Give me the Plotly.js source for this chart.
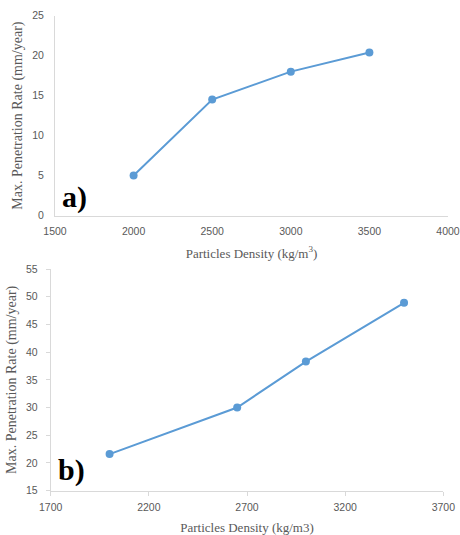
<!DOCTYPE html>
<html>
<head>
<meta charset="utf-8">
<script src="https://cdn.plot.ly/plotly-3.0.1.min.js"></script>
<style>html,body{margin:0;padding:0;background:#fff;}#chart{width:460px;height:535px;}</style>
</head>
<body>
<div id="chart"></div>
<script>
// Panel a)
const densityA = [2000, 2500, 3000, 3500];
const rateA = [5.0, 14.5, 18.0, 20.4];
// Panel b)
const densityB = [2000, 2650, 3000, 3500];
const rateB = [21.6, 30.0, 38.3, 48.9];

const xTitleA = 'Particles Density (kg/m<sup>3</sup>)';
const xTitleB = 'Particles Density (kg/m3)';
const yTitle = 'Max. Penetration Rate (mm/year)';
const panelLabels = ['a)', 'b)'];

const W = 460, H = 535;
const blue = '#5b9bd5';
const tickFont = {family: 'Liberation Sans, Arial, sans-serif', size: 10.5, color: '#595959'};
const xTitleFont = {family: 'Liberation Serif, Times New Roman, serif', size: 13, color: '#595959'};
const yTitleFont = {family: 'Liberation Serif, Times New Roman, serif', size: 14, color: '#595959'};

const traces = [
  {x: densityA, y: rateA, xaxis: 'x', yaxis: 'y', mode: 'lines+markers',
   line: {color: blue, width: 2}, marker: {color: blue, size: 8}, hoverinfo: 'x+y'},
  {x: densityB, y: rateB, xaxis: 'x2', yaxis: 'y2', mode: 'lines+markers',
   line: {color: blue, width: 2}, marker: {color: blue, size: 8}, hoverinfo: 'x+y'}
];

function px(x) { return x / W; }
function py(y) { return 1 - y / H; }

const axBase = {showgrid: false, zeroline: false, showline: true, linecolor: '#d9d9d9', linewidth: 1,
  tickfont: tickFont, fixedrange: true};

const layout = {
  width: W, height: H,
  margin: {l: 0, r: 0, t: 0, b: 0},
  paper_bgcolor: '#fff', plot_bgcolor: '#fff',
  showlegend: false,
  xaxis: Object.assign({}, axBase, {
    domain: [px(55), px(448)], anchor: 'y', range: [1500, 4000], dtick: 500, tick0: 1500,
    ticks: '', ticklabelstandoff: 6,
    title: {text: xTitleA, font: xTitleFont, standoff: 12}
  }),
  yaxis: Object.assign({}, axBase, {
    domain: [py(215.5), py(15.7)], anchor: 'x', range: [0, 25], dtick: 5,
    ticks: '', ticklabelstandoff: 8,
    title: {text: yTitle, font: yTitleFont, standoff: 6}
  }),
  xaxis2: Object.assign({}, axBase, {
    domain: [px(50.7), px(443.3)], anchor: 'y2', range: [1700, 3700], dtick: 500, tick0: 1700,
    ticks: 'outside', ticklen: 4, tickcolor: '#d9d9d9', ticklabelstandoff: 3,
    title: {text: xTitleB, font: xTitleFont, standoff: 11}
  }),
  yaxis2: Object.assign({}, axBase, {
    domain: [py(490.7), py(269)], anchor: 'x2', range: [15, 55], dtick: 5,
    ticks: 'outside', ticklen: 4, tickcolor: '#d9d9d9', ticklabelstandoff: 6,
    title: {text: yTitle, font: yTitleFont, standoff: 6}
  }),
  annotations: [
    {text: '<b>' + panelLabels[0] + '</b>', xref: 'paper', yref: 'paper', x: px(60), y: py(197),
     xanchor: 'left', yanchor: 'middle', showarrow: false,
     font: {family: 'Liberation Serif, Times New Roman, serif', size: 30, color: '#000'}},
    {text: '<b>' + panelLabels[1] + '</b>', xref: 'paper', yref: 'paper', x: px(56), y: py(470),
     xanchor: 'left', yanchor: 'middle', showarrow: false,
     font: {family: 'Liberation Serif, Times New Roman, serif', size: 30, color: '#000'}}
  ]
};

Plotly.newPlot('chart', traces, layout, {displayModeBar: false, staticPlot: true});
</script>
</body>
</html>
